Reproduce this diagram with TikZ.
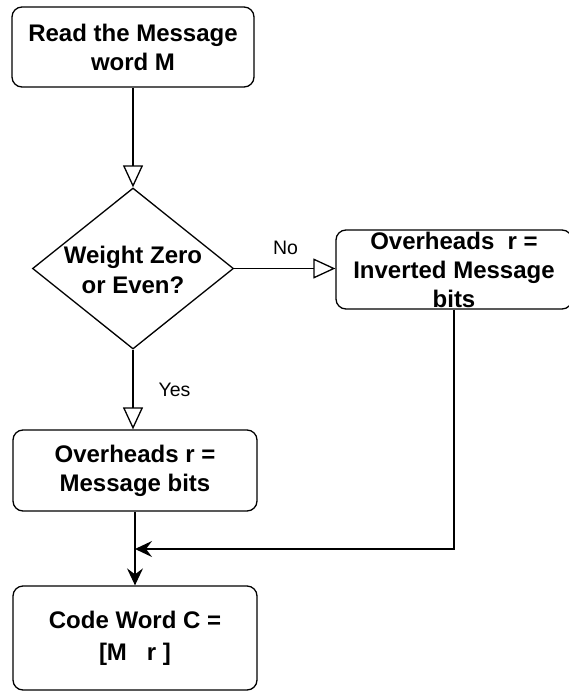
\documentclass[tikz,border=0pt]{standalone}
\usepackage{fontspec}
\setmainfont{Liberation Sans}
\usetikzlibrary{arrows.meta,shapes.geometric}
\begin{document}
\begin{tikzpicture}[x=1pt,y=-1pt,
  box/.style={draw, rounded corners=10pt, line width=1.3pt, align=center,
    font=\fontsize{24}{29}\selectfont\bfseries, inner sep=0pt},
  btext/.style={align=center, font=\fontsize{24}{30}\selectfont\bfseries, inner sep=0pt},
  lbl/.style={font=\fontsize{19.5}{23}\selectfont, inner sep=0pt},
  conn/.style={line width=1.3pt},
  opentip/.style={-{Triangle[open,length=22pt,width=20pt,line width=1.3pt]}},
  filltip/.style={-{Stealth[length=17pt,width=16pt,inset=6pt]}}]
\useasboundingbox (0,0) rectangle (569,691);
\node[box, minimum width=242pt, minimum height=80pt] (read) at (133,47) {Read the Message\\word M};
\node[draw, diamond, line width=1.3pt, minimum width=201pt, minimum height=161pt, inner sep=0pt] (dec) at (133,268.5) {};
\node[btext] (dectext) at (133,270) {Weight Zero\\or Even?};
\node[box, minimum width=236pt, minimum height=79pt] (inv) at (454,269.5) {Overheads\ \ r =\\Inverted Message\\bits};
\node[box, minimum width=244pt, minimum height=81pt] (ovr) at (135,470.5) {Overheads r =\\Message bits};
\node[box, minimum width=244pt, minimum height=104pt, font=\fontsize{24}{32}\selectfont\bfseries] (code) at (135,638) {Code Word C =\\{[M\ \ \ r ]}};
\node[lbl] (no) at (285.5,248) {No};
\node[lbl] (yes) at (174.5,390) {Yes};
\coordinate (join) at (135,549);
\draw[conn, opentip] (read) -- (dec);
\draw[conn, opentip] (dec.east) -- (inv.west |- dec.east);
\draw[conn, opentip] (dec.south) -- (dec.south |- ovr.north);
\draw[conn, filltip] (ovr) -- (code);
\draw[conn, filltip] (inv.south) |- (join);
\end{tikzpicture}
\end{document}
